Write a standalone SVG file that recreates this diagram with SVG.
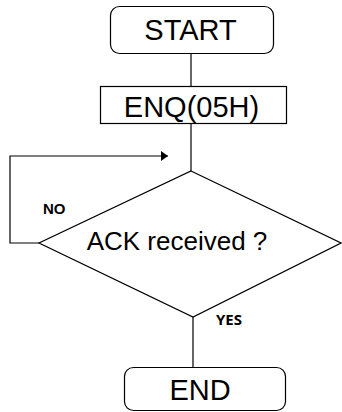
<svg xmlns="http://www.w3.org/2000/svg" width="342" height="412" viewBox="0 0 342 412">
<style>
.box{fill:#fff;stroke:#000;stroke-width:1.2}
.ln{fill:none;stroke:#000;stroke-width:1.2}
.big{font-family:"Liberation Sans",Arial,sans-serif;font-size:29px;fill:#000;text-anchor:middle}
.lbl{font-family:"Liberation Sans",Arial,sans-serif;font-size:15px;font-weight:bold;fill:#000}
.lbl2{font-family:"Open Sans",sans-serif;font-size:15px;font-weight:bold;fill:#000}
</style>
<defs>
<marker id="ah" markerWidth="8" markerHeight="10" refX="7" refY="5" orient="auto" markerUnits="userSpaceOnUse">
<path d="M0,0 L7,5 L0,10 Z" fill="#000"/>
</marker>
</defs>
<rect width="342" height="412" fill="#fff"/>
<g id="connectors">
<line class="ln" x1="191" y1="53" x2="191" y2="86"/>
<line class="ln" x1="191" y1="123" x2="191" y2="171"/>
<polyline class="ln" points="39,243 10,243 10,156 168,156" marker-end="url(#ah)"/>
<line class="ln" x1="193" y1="317" x2="193" y2="367"/>
</g>
<g id="start">
<rect class="box" x="110.5" y="6.5" width="163" height="47" rx="9"/>
<text class="big" x="190.5" y="40">START</text>
</g>
<g id="enq">
<rect class="box" x="100.5" y="86.5" width="186" height="37"/>
<text class="big" x="191.5" y="117">ENQ(05H)</text>
</g>
<g id="decision">
<polygon class="box" points="191,171 341,243 193,317 39,243"/>
<text class="big" x="177" y="250" style="font-size:26px">ACK received ?</text>
<text class="lbl" x="43" y="214">NO</text>
<text class="lbl2" x="216" y="325">YES</text>
</g>
<g id="end">
<rect class="box" x="124.5" y="367.5" width="161" height="43" rx="9"/>
<text class="big" x="200" y="400">END</text>
</g>
</svg>
